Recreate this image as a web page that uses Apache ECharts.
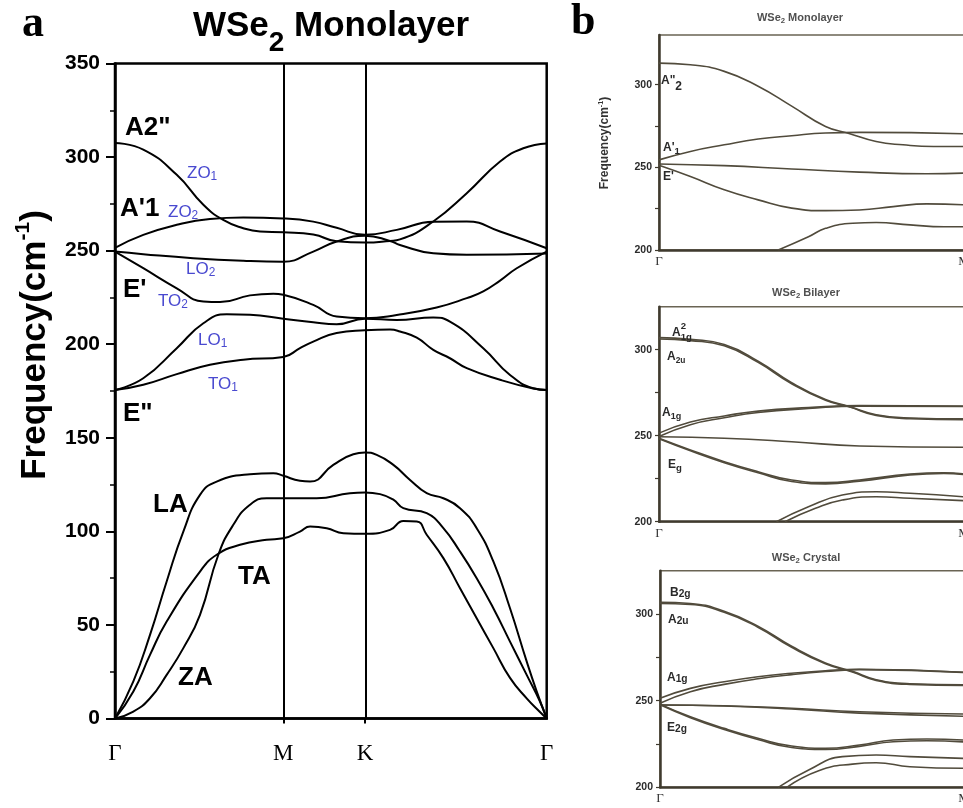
<!DOCTYPE html>
<html>
<head>
<meta charset="utf-8">
<script src="https://cdn.jsdelivr.net/npm/echarts@6/dist/echarts.min.js"></script>
<style>
html,body{margin:0;padding:0;background:#fff;}
#chart{width:963px;height:808px;}
</style>
</head>
<body>
<div id="chart"></div>
<script>
// High-symmetry points along Γ–M–K–Γ (path length, Γ–M = 1)
const kTicks = [0, 1, 1.485, 2.565];
const kNames = ['Γ', 'M', 'K', 'Γ'];
const freqTicks = [0, 50, 100, 150, 200, 250, 300, 350];

// Monolayer WSe2 phonon branches, [k, frequency (cm^-1)]
const ZA = [[0,0],[0.109,3.7],[0.208,10.8],[0.307,23.3],[0.406,37.6],[0.505,55.4],[0.614,87.5],[0.703,103.5],[0.802,114.2],[0.901,117.7],[1,117.7],[1.198,117.7],[1.396,120.4],[1.485,120.8],[1.575,119.9],[1.654,116.9],[1.713,112.4],[1.852,109.7],[1.951,101.7],[2.05,89.2],[2.149,75],[2.248,58.9],[2.347,41.1],[2.446,23.3],[2.525,9.1],[2.565,0]];
const TA = [[0,0],[0.109,14.4],[0.208,34],[0.307,51.8],[0.505,78.5],[0.604,87.5],[0.743,92.8],[0.901,95.5],[1,96.3],[1.099,99.9],[1.159,102.6],[1.258,101.7],[1.357,99],[1.485,98.7],[1.634,100.8],[1.713,105.6],[1.793,105.3],[1.852,98.2],[1.951,85.7],[2.05,69.6],[2.149,53.6],[2.248,37.6],[2.347,21.7],[2.446,10.8],[2.525,3.5],[2.565,0]];
const LA = [[0,0],[0.109,19.8],[0.208,44.7],[0.307,73.2],[0.406,99.9],[0.505,119.5],[0.604,126.6],[0.802,130.5],[0.941,131.1],[1,129.7],[1.099,127],[1.159,126.6],[1.297,135.5],[1.416,141.2],[1.485,142.1],[1.555,140.9],[1.654,135.5],[1.753,127.5],[1.852,120.4],[1.951,117.7],[2.05,112.4],[2.149,101.7],[2.248,83.9],[2.347,58.9],[2.446,30.5],[2.506,14.4],[2.565,0]];
const TO1 = [[0,175.5],[0.168,178.3],[0.367,184],[0.564,189],[0.762,191.7],[1,193.2],[1.099,197.9],[1.178,201.4],[1.317,206],[1.485,207.4],[1.634,207.8],[1.693,206.8],[1.793,203.5],[1.891,197],[1.99,192.5],[2.09,187.2],[2.288,181],[2.485,176.3],[2.565,175.5]];
const LO1 = [[0,175.5],[0.168,181.8],[0.367,197.9],[0.525,211.2],[0.664,216],[0.802,215.7],[1,213.6],[1.178,211.7],[1.317,210.7],[1.485,213.6],[1.674,213],[1.891,214.3],[1.99,212.1],[2.188,197.9],[2.347,183.6],[2.485,176.5],[2.565,175.5]];
const TO2 = [[0,249.5],[0.168,240.6],[0.367,229.9],[0.525,222.8],[0.624,222.5],[0.802,226.1],[0.941,227],[1,226.4],[1.178,221],[1.317,214.8],[1.485,213.9],[1.674,215.6],[1.911,219.6],[2.09,224.6],[2.188,228.2],[2.288,234],[2.387,240.6],[2.565,249.5]];
const LO2 = [[0,249.5],[0.168,248.1],[0.465,246],[0.762,244.6],[1,244.1],[1.178,249.5],[1.317,254.9],[1.485,258],[1.634,255.2],[1.693,253],[1.891,248.6],[2.09,247.8],[2.565,248.5]];
const ZO2 = [[0,251.5],[0.168,258.4],[0.367,263.8],[0.564,266.9],[0.762,267.7],[1,267.2],[1.178,265.5],[1.317,262.2],[1.485,258.5],[1.674,261.1],[1.891,265.4],[2.09,265.6],[2.288,260.2],[2.565,251.3]];
const ZO1 = [[0,307.5],[0.168,304],[0.367,290.5],[0.525,274.5],[0.643,266.4],[0.762,262],[0.862,260.2],[1,259.8],[1.178,258.6],[1.317,255],[1.485,254.3],[1.634,255.2],[1.693,256],[1.891,265.6],[2.09,280.7],[2.288,297.6],[2.426,304.7],[2.565,307.3]];

// Γ–M optical branches for monolayer, bilayer and bulk, [fraction of Γ–M, frequency]
const monoA2 = [[0,313],[0.103,312],[0.214,308],[0.325,299],[0.435,287],[0.546,274.7],[0.623,270.5],[0.712,265.6],[0.8,263.6],[0.9,262.6],[1,262.6]];
const monoA1 = [[0,254.5],[0.103,259.6],[0.214,263.6],[0.325,267.1],[0.435,269.1],[0.546,270.7],[0.657,271.1],[1,270.3]];
const monoE1 = [[0,252],[0.214,251],[0.435,249],[0.657,247.1],[0.878,246.1],[1,246.5]];
const monoE2 = [[0,251.2],[0.103,244.4],[0.214,236.4],[0.325,230.3],[0.435,225.3],[0.546,223.8],[0.657,224.2],[0.768,226.2],[0.878,227.9],[1,227.3]];
const monoLO = [[0.391,200],[0.49,208],[0.546,213.1],[0.635,216.2],[0.712,216.6],[0.823,215.2],[0.934,214.1],[1,214.1]];

const biA2a = [[0,307],[0.103,306],[0.214,303],[0.325,293.3],[0.435,280.8],[0.546,271],[0.623,267],[0.712,262.2],[0.823,260.3],[1,259.8]];
const biA2b = [[0,306.2],[0.103,305.3],[0.214,302.3],[0.325,292.6],[0.435,280.2],[0.546,270.6],[0.623,266.8],[0.712,261.8],[0.823,259.9],[1,259.3]];
const biA1a = [[0,251.5],[0.103,258],[0.214,261.5],[0.325,264.3],[0.49,266.3],[0.657,267.5],[1,267.2]];
const biA1b = [[0,249.5],[0.103,256.4],[0.214,260.4],[0.325,263.5],[0.49,265.8],[0.657,267.2],[1,267]];
const biFlat = [[0,249.4],[0.214,248.5],[0.435,246.5],[0.657,244],[1,243.3]];
const biEga = [[0,248.5],[0.103,241.7],[0.214,234.9],[0.325,229.1],[0.435,224.2],[0.546,222.7],[0.657,224.2],[0.823,227.7],[0.934,228.5],[1,227.7]];
const biEgb = [[0,248.2],[0.103,241.2],[0.214,234.3],[0.325,228.5],[0.435,223.4],[0.546,222],[0.657,223.6],[0.823,227.2],[0.934,228.1],[1,227.4]];
const biLOa = [[0.385,200],[0.49,208.7],[0.601,215.5],[0.712,217.4],[0.823,216.5],[1,214.5]];
const biLOb = [[0.413,200],[0.513,207.8],[0.601,212.6],[0.712,214.5],[0.823,213.6],[1,212.2]];

const crB2g = [[0,306.8],[0.1,306.1],[0.211,301.6],[0.322,293],[0.433,281.4],[0.544,271.8],[0.633,266.9],[0.711,262.1],[0.822,259.8],[1,259.2]];
const crA2u = [[0,306.1],[0.1,305.5],[0.211,301],[0.322,292.4],[0.433,280.8],[0.544,271.3],[0.633,266.5],[0.711,261.7],[0.822,259.4],[1,258.8]];
const crA1a = [[0,251.4],[0.1,257.1],[0.211,260.9],[0.322,263.8],[0.433,265.8],[0.544,267.3],[0.656,268.1],[1,266.4]];
const crA1b = [[0,248.5],[0.1,255.2],[0.211,259.4],[0.322,262.6],[0.433,265],[0.544,266.8],[0.656,267.9],[1,266.3]];
const crFlatA = [[0,247.5],[0.211,247.1],[0.433,245.6],[0.656,243.6],[1,242.3]];
const crFlatB = [[0,247.5],[0.211,246.9],[0.433,245.2],[0.656,242.8],[1,241]];
const crE2a = [[0,248],[0.1,240.7],[0.211,234],[0.322,228.3],[0.433,223.8],[0.544,222.5],[0.656,224.4],[0.767,227.3],[0.878,227.9],[1,227.3]];
const crE2b = [[0,247.6],[0.1,240.2],[0.211,233.4],[0.322,227.6],[0.433,223],[0.544,221.8],[0.656,223.6],[0.767,226.3],[0.878,226.9],[1,226.2]];
const crLOa = [[0.389,200],[0.489,210],[0.6,217.7],[0.711,218.6],[0.822,217.7],[1,216.7]];
const crLOb = [[0.417,200],[0.522,209.6],[0.633,213.4],[0.711,214.2],[0.822,211.9],[1,211]];

const subTicks = [200, 250, 300];
const subMinor = [200, 225, 250, 275, 300];
const subNames = ['Γ', 'M'];

const SANS = "'Liberation Sans', Arial, Helvetica, sans-serif";
const SERIF = "'Liberation Serif', 'Times New Roman', serif";
const BROWN = '#514b3c';

// Lay out a run of text pieces (sub/superscripts) left to right.
// piece: [text, sizeScale, dyScale, keepX]
const measureCtx = document.createElement('canvas').getContext('2d');
function textRun(x, y, pieces, o) {
  const items = pieces.map(p => {
    const size = o.size * (p[1] || 1);
    const font = (o.weight || 'normal') + ' ' + size + 'px ' + (o.family || SANS);
    measureCtx.font = font;
    return { t: p[0], font, w: measureCtx.measureText(p[0]).width, dy: (p[2] || 0) * o.size, keep: !!p[3] };
  });
  const total = items.reduce((s, i) => s + (i.keep ? 0 : i.w), 0);
  let cx = o.align === 'center' ? x - total / 2 : (o.align === 'right' ? x - total : x);
  return items.map(i => {
    const el = {
      type: 'text', x: cx, y: y + i.dy, silent: true, z: 100,
      style: { text: i.t, font: i.font, fill: o.fill || '#000', align: 'left', verticalAlign: 'middle', textAlign: 'left', textVerticalAlign: 'middle' }
    };
    if (!i.keep) cx += i.w;
    return el;
  });
}

const chart = echarts.init(document.getElementById('chart'), null, { renderer: 'canvas' });

const grids = [
  { left: 115, top: 63.5, width: 431.7, height: 655 },
  { left: 659, top: 35, width: 305, height: 215 },
  { left: 659, top: 306.7, width: 305, height: 215 },
  { left: 660, top: 570.7, width: 304, height: 216.6 }
];
const subMax = [330, 325, 325];

const xAxes = [{
  gridIndex: 0, type: 'value', min: 0, max: kTicks[kTicks.length - 1],
  axisLine: { show: true, lineStyle: { color: '#000', width: 2.5 } },
  axisTick: { show: true, customValues: kTicks.slice(1, 3), length: 5, lineStyle: { color: '#000', width: 2 } },
  axisLabel: {
    customValues: kTicks, margin: 24, color: '#000', fontFamily: SERIF, fontSize: 23,
    formatter: v => kNames[kTicks.findIndex(t => Math.abs(t - v) < 1e-6)]
  },
  splitLine: { show: false }
}];
const yAxes = [{
  gridIndex: 0, type: 'value', min: 0, max: 350, interval: 50,
  axisLine: { show: true, lineStyle: { color: '#000', width: 2.5 } },
  axisTick: { show: true, length: 9, lineStyle: { color: '#000', width: 2 } },
  minorTick: { show: true, splitNumber: 2, length: 5, lineStyle: { color: '#000', width: 1.5 } },
  axisLabel: { customValues: freqTicks, margin: 15, color: '#000', fontFamily: SANS, fontWeight: 'bold', fontSize: 21 },
  splitLine: { show: false }
}];
for (let i = 0; i < 3; i++) {
  xAxes.push({
    gridIndex: i + 1, type: 'value', min: 0, max: 1,
    axisLine: { show: true, lineStyle: { color: '#3f3a2e', width: 2.5 } },
    axisTick: { show: false },
    axisLabel: { customValues: [0, 1], margin: 5, color: '#333', fontFamily: SERIF, fontSize: 13,
      formatter: v => subNames[v > 0.5 ? 1 : 0] },
    splitLine: { show: false }
  });
  yAxes.push({
    gridIndex: i + 1, type: 'value', min: 200, max: subMax[i],
    axisLine: { show: true, lineStyle: { color: '#3f3a2e', width: 2.5 } },
    axisTick: { show: true, customValues: subMinor, length: 4, lineStyle: { color: '#3f3a2e', width: 1.2 } },
    axisLabel: { customValues: subTicks, margin: 7, color: '#2b2b2b', fontFamily: SANS, fontWeight: 'bold', fontSize: 10.5 },
    splitLine: { show: false }
  });
}

function branchSeries(list, idx, style) {
  return list.map(d => ({
    type: 'line', xAxisIndex: idx, yAxisIndex: idx, data: d,
    showSymbol: false, symbol: 'none', smooth: 0.5,
    lineStyle: style, silent: true, clip: true, z: 3
  }));
}

const blackLine = { color: '#000', width: 2 };
const brownLine = { color: BROWN, width: 1.6 };

const series = [].concat(
  branchSeries([ZA, TA, LA, TO1, LO1, TO2, LO2, ZO2, ZO1], 0, blackLine),
  branchSeries([monoA2, monoA1, monoE1, monoE2, monoLO], 1, brownLine),
  branchSeries([biA2a, biA2b, biA1a, biA1b, biFlat, biEga, biEgb, biLOa, biLOb], 2, brownLine),
  branchSeries([crB2g, crA2u, crA1a, crA1b, crFlatA, crFlatB, crE2a, crE2b, crLOa, crLOb], 3, brownLine)
);
// vertical lines at M and K
series[0].markLine = {
  silent: true, symbol: ['none', 'none'], label: { show: false }, animation: false,
  lineStyle: { color: '#000', width: 2, type: 'solid' },
  data: kTicks.slice(1, 3).map(v => ({ xAxis: v }))
};

const big = { size: 26, weight: 'bold', fill: '#000' };
const blue = { size: 17, weight: 'normal', fill: '#4a4ad0' };
const sub = { size: 12, weight: 'bold', fill: '#2a2a2a' };
const subTitle = { size: 11, weight: 'bold', fill: '#505050', align: 'center' };

let graphics = [];
// panel letters
graphics = graphics.concat(textRun(22, 25, [['a']], { size: 44, weight: 'bold', family: SERIF }));
graphics = graphics.concat(textRun(571, 23, [['b']], { size: 44, weight: 'bold', family: SERIF }));
// main title
graphics = graphics.concat(textRun(331, 26, [['WSe'], ['2', 0.8, 0.5], [' Monolayer']], { size: 35, weight: 'bold', align: 'center' }));
// y-axis title, panel a
graphics.push({ type: 'group', x: 35, y: 345, rotation: Math.PI / 2,
  children: textRun(0, 0, [['Frequency(cm'], ['-1', 0.6, -0.35], [')']], { size: 35, weight: 'bold', align: 'center' }) });
// mode labels, panel a
graphics = graphics.concat(
  textRun(125, 128, [['A2"']], big),
  textRun(120, 209, [["A'1"]], big),
  textRun(123, 290, [["E'"]], big),
  textRun(123, 414, [['E"']], big),
  textRun(153, 505, [['LA']], big),
  textRun(238, 577, [['TA']], big),
  textRun(178, 678, [['ZA']], big),
  textRun(187, 173, [['ZO'], ['1', 0.7, 0.2]], blue),
  textRun(168, 212, [['ZO'], ['2', 0.7, 0.2]], blue),
  textRun(186, 269, [['LO'], ['2', 0.7, 0.2]], blue),
  textRun(158, 301, [['TO'], ['2', 0.7, 0.2]], blue),
  textRun(198, 340, [['LO'], ['1', 0.7, 0.2]], blue),
  textRun(208, 384, [['TO'], ['1', 0.7, 0.2]], blue)
);
// panel b titles and labels
graphics = graphics.concat(
  textRun(800, 18, [['WSe'], ['2', 0.7, 0.25], [' Monolayer']], subTitle),
  textRun(806, 293, [['WSe'], ['2', 0.7, 0.25], [' Bilayer']], subTitle),
  textRun(806, 558, [['WSe'], ['2', 0.7, 0.25], [' Crystal']], subTitle)
);
graphics.push({ type: 'group', x: 605, y: 143, rotation: Math.PI / 2,
  children: textRun(0, 0, [['Frequency(cm'], ['-1', 0.6, -0.35], [')']], { size: 12, weight: 'bold', fill: '#333', align: 'center' }) });
graphics = graphics.concat(
  textRun(661, 81, [['A"'], ['2', 1, 0.45]], sub),
  textRun(663, 148, [["A'"], ['1', 0.8, 0.25]], sub),
  textRun(663, 177, [["E'"]], sub),
  textRun(672, 333, [['A'], ['2', 0.8, -0.55, true], ['1g', 0.8, 0.35]], sub),
  textRun(667, 357, [['A'], ['2u', 0.7, 0.3]], sub),
  textRun(662, 413, [['A'], ['1g', 0.75, 0.3]], sub),
  textRun(668, 465, [['E'], ['g', 0.8, 0.3]], sub),
  textRun(670, 593, [['B'], ['2g', 0.85, 0.1]], sub),
  textRun(668, 620, [['A'], ['2u', 0.85, 0.1]], sub),
  textRun(667, 678, [['A'], ['1g', 0.85, 0.1]], sub),
  textRun(667, 728, [['E'], ['2g', 0.85, 0.1]], sub)
);

chart.setOption({
  animation: false,
  backgroundColor: '#fff',
  grid: grids.map((g, i) => Object.assign({
    show: true, backgroundColor: 'transparent', outerBoundsMode: 'none',
    borderColor: i === 0 ? '#000' : '#6a6454', borderWidth: i === 0 ? 2.5 : 1.5, containLabel: false
  }, g)),
  xAxis: xAxes,
  yAxis: yAxes,
  series: series,
  graphic: { elements: graphics }
});
</script>
</body>
</html>
